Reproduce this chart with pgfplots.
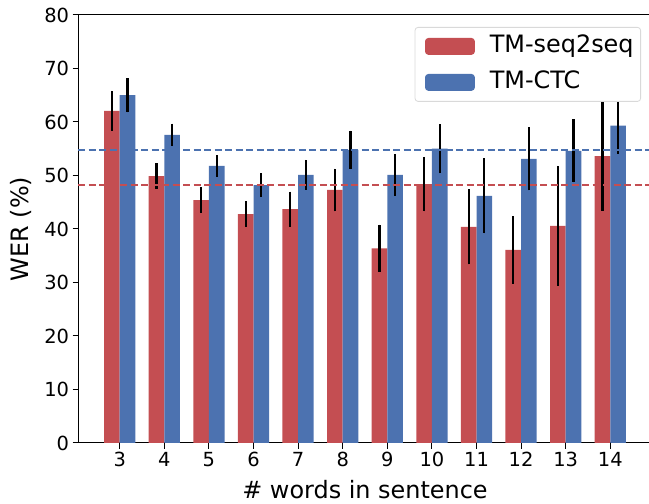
\documentclass[border=0pt]{standalone}
\usepackage{fontspec}
\setmainfont{DejaVu Sans}
\usepackage{pgfplots}
\usepackage{pgfplotstable}
\pgfplotsset{compat=1.18}
\definecolor{cRed}{HTML}{C44E52}
\definecolor{cBlue}{HTML}{4C72B0}

\pgfplotstableread{
x  y     e
3  62.1  3.7
4  49.9  2.4
5  45.4  2.4
6  42.8  2.4
7  43.7  3.3
8  47.3  4.0
9  36.4  4.4
10 48.4  5.1
11 40.4  7.0
12 36.1  6.3
13 40.6  11.2
14 53.6  10.2
}\seqdata

\pgfplotstableread{
x  y     e
3  65.0  3.2
4  57.6  2.1
5  51.8  2.0
6  48.2  2.2
7  50.1  2.8
8  54.8  3.6
9  50.1  3.9
10 55.0  4.6
11 46.2  7.0
12 53.1  5.9
13 54.6  5.9
14 59.3  5.2
}\ctcdata

\begin{document}
\begin{tikzpicture}
\useasboundingbox (0,0) rectangle (649bp,504bp);
\begin{axis}[
  at={(78bp,61bp)}, anchor=south west,
  scale only axis, width=574bp, height=428bp,
  xmin=2.065, xmax=14.935, ymin=0, ymax=80,
  xtick={3,4,5,6,7,8,9,10,11,12,13,14},
  ytick={0,10,20,30,40,50,60,70,80},
  tick align=outside, major tick length=5.5bp,
  xtick pos=bottom, ytick pos=left,
  tick style={black, line width=1bp},
  axis line style={line width=1bp},
  /pgf/number format/assume math mode=true,
  ticklabel style={font=\fontsize{19.5}{23}\selectfont},
  label style={font=\fontsize{24}{28}\selectfont},
  xlabel={\# words in sentence},
  ylabel={WER (\%)},
  xlabel style={at={(axis description cs:0.5,0)}, anchor=center, yshift=-47bp},
  ylabel style={at={(axis description cs:0,0.5)}, anchor=center, rotate=0, yshift=57bp},
  ybar, bar width=0.35,
  error bars/y dir=both, error bars/y explicit,
  error bars/error mark=none,
  error bars/error bar style={black, line width=2.2bp},
  legend style={at={(rel axis cs:1,1)}, anchor=north east, xshift=-11bp, yshift=-12bp,
    draw=black!15, rounded corners=3bp, line width=0.8bp,
    font=\fontsize{24}{28}\selectfont,
    nodes={text height=18bp, text depth=6bp, inner sep=3bp},
    row sep=6bp, inner sep=4bp, column sep=0bp},
  legend cell align=left,
]
\addlegendimage{legend image code/.code={\path (-6bp,0) (55bp,0); \fill[cRed] (0bp,-8bp) rectangle (49bp,8bp);}}
\addlegendentry{\hspace{6bp}TM-seq2seq\hspace{5bp}}
\addlegendimage{legend image code/.code={\path (-6bp,0) (55bp,0); \fill[cBlue] (0bp,-8bp) rectangle (49bp,8bp);}}
\addlegendentry{\hspace{6bp}TM-CTC}

\addplot[forget plot, fill=cRed, draw=none, bar shift=-0.175]
  table[x=x, y=y, y error=e] {\seqdata};
\addplot[forget plot, fill=cBlue, draw=none, bar shift=0.175]
  table[x=x, y=y, y error=e] {\ctcdata};

\addplot[forget plot, sharp plot, cRed, line width=2bp, dash pattern=on 7bp off 3.5bp]
  coordinates {(2.065,48.3) (14.935,48.3)};
\addplot[forget plot, sharp plot, cBlue, line width=2bp, dash pattern=on 7bp off 3.5bp]
  coordinates {(2.065,54.7) (14.935,54.7)};
\end{axis}
\end{tikzpicture}
\end{document}
